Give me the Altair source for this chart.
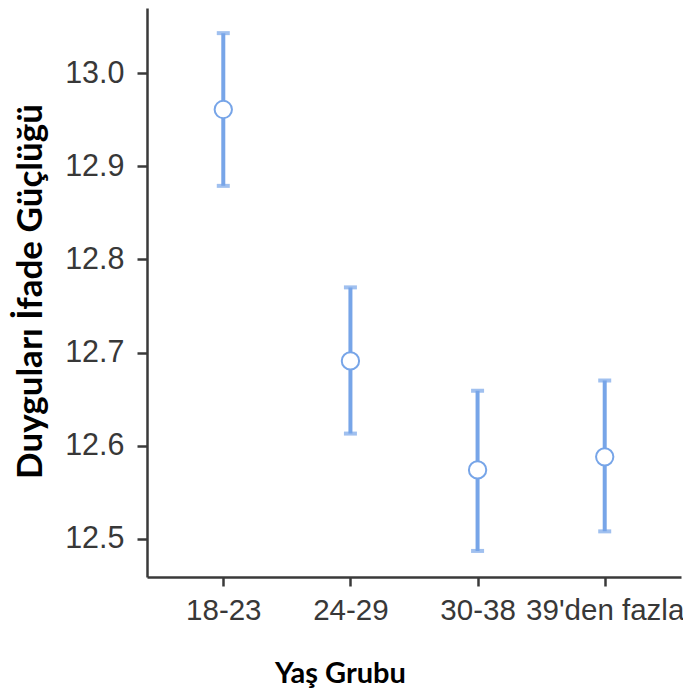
import altair as alt
import pandas as pd

groups = ["18-23", "24-29", "30-38", "39'den fazla"]
means = [12.961, 12.691, 12.574, 12.588]
lowers = [12.879, 12.613, 12.487, 12.508]
uppers = [13.043, 12.770, 12.659, 12.670]
y_ticks = [12.5, 12.6, 12.7, 12.8, 12.9, 13.0]

df = pd.DataFrame({"group": groups, "mean": means, "lower": lowers, "upper": uppers})

BLUE = "#77a5e8"
AX = "#3a3a3a"
LBL = "#383838"

xenc = alt.X(
    "group:N",
    sort=groups,
    scale=alt.Scale(type="point", padding=0.6),
    axis=alt.Axis(
        title="Yaş Grubu",
        titleFont="Lato",
        titleFontWeight="bold",
        titleFontSize=29,
        titleColor="#000000",
        titleX=193,
        titleY=105,
        titleAnchor="middle",
        titleBaseline="alphabetic",
        labelFont="Liberation Sans",
        labelFontSize=29.5,
        labelColor=LBL,
        labelAngle=0,
        labelOverlap=False,
        labelPadding=10,
        labelBound=False,
        labelFlush=False,
        domainColor=AX,
        domainWidth=2.5,
        tickColor=AX,
        tickWidth=2.5,
        tickSize=9,
        grid=False,
    ),
)

yscale = alt.Scale(domain=[12.459, 13.07], nice=False, zero=False)
yaxis = alt.Axis(
    title="Duyguları İfade Güçlüğü",
    titleFont="Lato",
    titleFontWeight="bold",
    titleFontSize=35,
    titleColor="#000000",
    titleAngle=-90,
    titleX=-106,
    titleY=283,
    titleAnchor="middle",
    titleBaseline="alphabetic",
    values=y_ticks,
    format=".1f",
    labelFont="Liberation Sans",
    labelFontSize=30.5,
    labelColor=LBL,
    labelPadding=13,
    domainColor=AX,
    domainWidth=2.5,
    tickColor=AX,
    tickWidth=2.5,
    tickSize=10,
    grid=False,
)

base = alt.Chart(df)

bars = base.mark_rule(color=BLUE, strokeWidth=4).encode(
    x=xenc,
    y=alt.Y("lower:Q", scale=yscale, axis=yaxis),
    y2="upper:Q",
)

cap_lo = base.mark_tick(color=BLUE, orient="horizontal", size=13, thickness=4).encode(
    x=alt.X("group:N", sort=groups), y=alt.Y("lower:Q")
)
cap_hi = base.mark_tick(color=BLUE, orient="horizontal", size=13, thickness=4).encode(
    x=alt.X("group:N", sort=groups), y=alt.Y("upper:Q")
)

pts = base.mark_point(
    shape="circle", filled=True, fill="white", stroke=BLUE, strokeWidth=2, size=300, opacity=1
).encode(
    x=alt.X("group:N", sort=groups), y=alt.Y("mean:Q")
)

chart = (
    alt.layer(bars, cap_lo, cap_hi, pts)
    .properties(
        width=534,
        height=569,
        autosize=alt.AutoSizeParams(type="none"),
        padding={"left": 139, "top": 0, "right": 2, "bottom": 112},
        background="white",
    )
    .configure_view(stroke=None)
)

chart.save("out.html", embed_options={"renderer": "svg", "actions": False})
